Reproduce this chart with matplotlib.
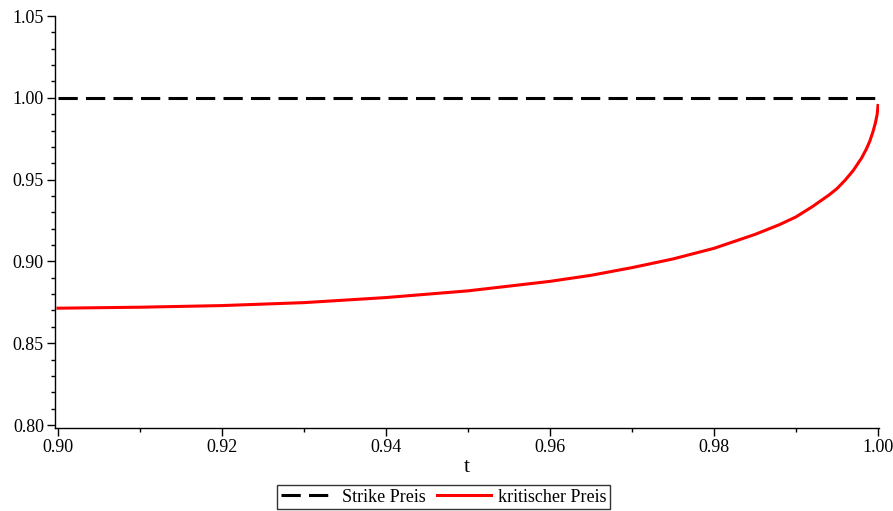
import matplotlib
matplotlib.use("Agg")
import matplotlib.pyplot as plt
from matplotlib.ticker import MultipleLocator, FormatStrFormatter

plt.rcParams['font.family'] = ['Liberation Serif', 'DejaVu Serif']

# Zeitpunkte und kritischer Preis
t = [0.900, 0.910, 0.920, 0.930, 0.940, 0.950, 0.960, 0.965, 0.970, 0.975,
     0.980, 0.985, 0.988, 0.990, 0.992, 0.994, 0.995, 0.996, 0.997, 0.998,
     0.9986, 0.999, 0.9994, 0.9997, 0.9999, 1.000]
kritisch = [0.8714, 0.8720, 0.8730, 0.8748, 0.8779, 0.8820, 0.8878, 0.8915,
            0.8962, 0.9015, 0.9080, 0.9165, 0.9225, 0.9272, 0.9335, 0.9405,
            0.9445, 0.9497, 0.9557, 0.9632, 0.9689, 0.9735, 0.9795, 0.9850,
            0.9900, 0.9953]
strike = 1.0
t_strike = [0.900, 1.000]

fig = plt.figure(figsize=(8.93, 5.11), dpi=100)
ax = fig.add_axes([55 / 893, 1 - 428 / 511, 824 / 893, 412 / 511])

ax.plot(t_strike, [strike, strike], color='black', lw=2.2,
        dashes=(6.3, 2.7), label='Strike Preis')
ax.plot(t, kritisch, color='#ff0000', lw=2.2, label='kritischer Preis')

ax.set_xlim(0.90 - 3 / 8200, 1.00 + 1 / 8200)
ax.set_ylim(0.80 - 3 / 1640, 1.05)

ax.spines['top'].set_visible(False)
ax.spines['right'].set_visible(False)
for s in ('left', 'bottom'):
    ax.spines[s].set_linewidth(1.0)

ax.xaxis.set_major_locator(MultipleLocator(0.02))
ax.xaxis.set_minor_locator(MultipleLocator(0.01))
ax.yaxis.set_major_locator(MultipleLocator(0.05))
ax.yaxis.set_minor_locator(MultipleLocator(0.01))
ax.xaxis.set_major_formatter(FormatStrFormatter('%.2f'))
ax.yaxis.set_major_formatter(FormatStrFormatter('%.2f'))
ax.tick_params(which='major', length=6, width=1.0, labelsize=13, pad=2)
ax.tick_params(which='minor', length=3, width=1.0)

ax.set_xlabel('t', fontsize=16, labelpad=1)

fig.legend(loc='lower center', bbox_to_anchor=(0.4967, 0.0), ncol=2,
           fontsize=13, frameon=True, fancybox=False, edgecolor='black',
           handlelength=3.0, handletextpad=0.4, columnspacing=0.6,
           borderpad=0.2, borderaxespad=0.1)

fig.savefig('out.png', dpi=100)
